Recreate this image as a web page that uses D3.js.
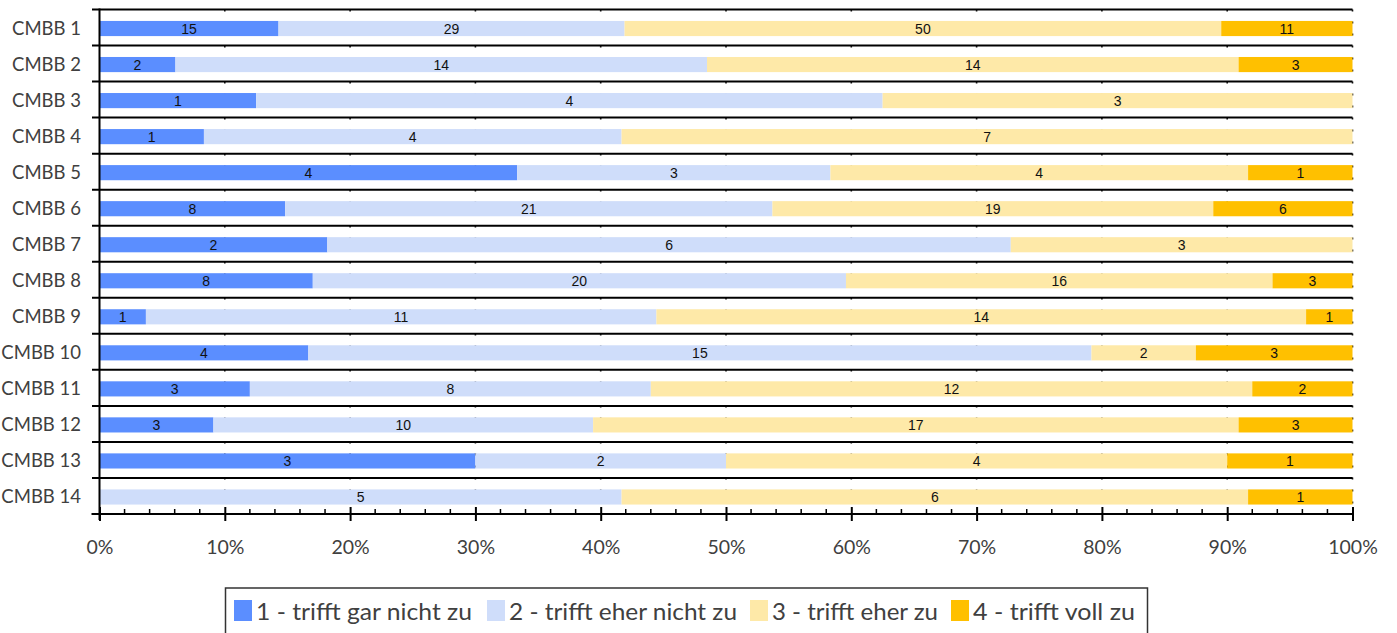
<!DOCTYPE html>
<html><head><meta charset="utf-8">
<script src="https://cdn.jsdelivr.net/npm/d3@7"></script>
<style>body{margin:0;background:#fff;} svg{display:block;}</style>
</head><body>
<svg id="chart" width="1397" height="633"></svg>
<script>
const categories = ["CMBB 1","CMBB 2","CMBB 3","CMBB 4","CMBB 5","CMBB 6","CMBB 7","CMBB 8","CMBB 9","CMBB 10","CMBB 11","CMBB 12","CMBB 13","CMBB 14"];
const seriesNames = ["1 - trifft gar nicht zu","2 - trifft eher nicht zu","3 - trifft eher zu","4 - trifft voll zu"];
const s1 = [15,2,1,1,4,8,2,8,1,4,3,3,3,0];
const s2 = [29,14,4,4,3,21,6,20,11,15,8,10,2,5];
const s3 = [50,14,3,7,4,19,3,16,14,2,12,17,4,6];
const s4 = [11,3,0,0,1,6,0,3,1,3,2,3,1,1];
const colors = ["#5B8EFF","#CFDDFA","#FEE9A8","#FFC000"];
const tickValues = [0,0.1,0.2,0.3,0.4,0.5,0.6,0.7,0.8,0.9,1.0];

const svg = d3.select("#chart");
const mLeft = 99.5, mRight = 1352.5, mTop = 9.5, mBottom = 514;
const x = d3.scaleLinear().domain([0,1]).range([mLeft,mRight]);
const y = d3.scaleBand().domain(categories).range([mTop,mBottom]).paddingInner(0).paddingOuter(0);
const allSeries = [s1,s2,s3,s4];

const rows = categories.map((c,i)=>{
  const vals = allSeries.map(s=>s[i]);
  const total = d3.sum(vals);
  let acc = 0;
  return vals.map((v,k)=>{ const seg={cat:c,k,v,x0:acc/total,x1:(acc+v)/total}; acc+=v; return seg;});
}).flat();

// vertical dotted gridlines
svg.append("g").selectAll("line").data(tickValues.slice(1)).join("line")
  .attr("x1",d=>x(d)).attr("x2",d=>x(d)).attr("y1",mTop).attr("y2",mBottom)
  .attr("stroke","#111").attr("stroke-width",1.6).attr("stroke-dasharray","2,10");

// bars
const bh = y.bandwidth()*0.42;
svg.append("g").selectAll("rect").data(rows.filter(d=>d.v>0)).join("rect")
  .attr("x",d=>x(d.x0)).attr("width",d=>x(d.x1)-x(d.x0))
  .attr("y",d=>y(d.cat)+y.bandwidth()/2-bh/2+1).attr("height",bh)
  .attr("fill",d=>colors[d.k]);

// value labels
svg.append("g").selectAll("text").data(rows.filter(d=>d.v>0)).join("text")
  .attr("x",d=>(x(d.x0)+x(d.x1))/2).attr("y",d=>y(d.cat)+y.bandwidth()/2+1)
  .attr("text-anchor","middle").attr("dominant-baseline","central")
  .attr("font-family","Liberation Sans, Arial, sans-serif").attr("font-size",14)
  .attr("fill","#111").text(d=>d.v);

// horizontal row separators (y-axis major ticks)
const bounds = categories.map(c=>y(c));
svg.append("g").selectAll("line").data(bounds).join("line")
  .attr("x1",92).attr("x2",mRight).attr("y1",d=>d).attr("y2",d=>d)
  .attr("stroke","#000").attr("stroke-width",2);

// left axis line
svg.append("line").attr("x1",mLeft).attr("x2",mLeft).attr("y1",mTop-1).attr("y2",mBottom+6)
  .attr("stroke","#000").attr("stroke-width",2);

// bottom axis
const xAxis = d3.axisBottom(x).tickValues(tickValues).tickFormat(d3.format(".0%")).tickSize(6).tickSizeOuter(0);
const gx = svg.append("g").attr("transform",`translate(0,${mBottom})`).call(xAxis);
gx.select(".domain").attr("stroke","#000").attr("stroke-width",2).attr("d",`M${mLeft-8},0H${mRight}`);
gx.selectAll(".tick line").attr("stroke","#000").attr("stroke-width",2).attr("y1",-7).attr("y2",7);
gx.selectAll(".tick text").attr("font-family","Lato, sans-serif").attr("font-size",19.5).attr("fill","#404040").attr("dy","0").attr("y",40);
// minor ticks
const minor = d3.range(0,51).map(i=>i/50).filter(v=>Math.round(v*50)%5!==0);
svg.append("g").selectAll("line").data(minor).join("line")
  .attr("x1",d=>x(d)).attr("x2",d=>x(d)).attr("y1",mBottom-5).attr("y2",mBottom)
  .attr("stroke","#000").attr("stroke-width",1.5);

// y labels
svg.append("g").selectAll("text").data(categories).join("text")
  .attr("x",81).attr("y",d=>y(d)+y.bandwidth()/2+0.5).attr("text-anchor","end")
  .attr("dominant-baseline","central").attr("font-family","Lato, sans-serif").attr("font-size",18.5)
  .attr("fill","#404040").text(d=>d);

// legend
const legend = svg.append("g");
legend.append("rect").attr("x",225.5).attr("y",588).attr("width",922).attr("height",60)
  .attr("fill","#fff").attr("stroke","#333").attr("stroke-width",1.5);
const itemX = [234,487,750,951];
const textW = [216,228,166,162];
seriesNames.forEach((n,i)=>{
  legend.append("rect").attr("x",itemX[i]).attr("y",600).attr("width",18).attr("height",21).attr("fill",colors[i]);
  legend.append("text").attr("x",itemX[i]+22).attr("y",619.5)
    .attr("font-family","Lato, sans-serif").attr("font-size",23).attr("fill","#404040")
    .attr("textLength",textW[i]).attr("lengthAdjust","spacingAndGlyphs").text(n);
});
</script>
</body></html>
